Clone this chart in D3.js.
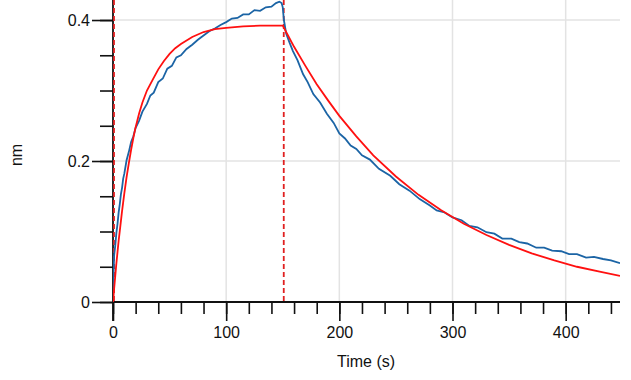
<!DOCTYPE html>
<html><head><meta charset="utf-8">
<script src="https://cdn.jsdelivr.net/npm/d3@7"></script>
<style>
html,body{margin:0;padding:0;background:#fff;}
svg{display:block;}
text{font-family:"Liberation Sans",Arial,sans-serif;fill:#111;}
</style></head>
<body>
<svg id="chart" width="631" height="380"></svg>
<script>
// Observed response (blue): time (s), response (nm)
const measuredTime = [0,0.5,1,2,3,4,5,6,7,8,9,10,12,14,16,18,20,23,26,30,33,36,40,44,48,52,56,60,65,70,75,80,85,90,95,100,105,110,115,120,125,130,135,140,144,147,149,
  150,151,153,156,159,163,168,172,177,183,189,195,200,205,210,215,220,227,235,245,253,262,271,280,286,293,300,308,315,322,330,337,344,352,359,366,374,381,388,396,403,410,418,425,433,440,448];
const measuredValue = [0.000,0.040,0.066,0.080,0.098,0.111,0.127,0.139,0.153,0.162,0.175,0.182,0.201,0.213,0.227,0.235,0.247,0.257,0.270,0.281,0.293,0.297,0.312,0.317,0.331,0.335,0.347,0.350,0.359,0.365,0.372,0.378,0.384,0.388,0.393,0.397,0.402,0.403,0.408,0.408,0.414,0.413,0.418,0.419,0.424,0.426,0.424,
  0.418,0.400,0.381,0.368,0.356,0.343,0.323,0.312,0.295,0.283,0.267,0.254,0.239,0.232,0.222,0.217,0.208,0.202,0.189,0.179,0.167,0.158,0.146,0.137,0.130,0.127,0.120,0.116,0.108,0.106,0.099,0.097,0.090,0.090,0.085,0.083,0.077,0.077,0.073,0.072,0.068,0.068,0.063,0.064,0.061,0.059,0.055];

// Fitted curve (red)
const fitTime = [0,1,2,3,4,5,6,8,10,12,14,16,18,20,23,26,30,35,40,45,50,55,60,70,80,90,100,115,130,150,
  155,160,170,180,190,200,215,230,250,270,290,310,330,350,370,390,410,430,448];
const fitValue = [0.000,0.019,0.037,0.055,0.071,0.087,0.101,0.129,0.154,0.177,0.197,0.216,0.233,0.248,0.267,0.283,0.300,0.315,0.330,0.342,0.352,0.360,0.366,0.376,0.383,0.387,0.389,0.391,0.392,0.392,
  0.377,0.362,0.335,0.309,0.286,0.264,0.235,0.208,0.178,0.152,0.130,0.111,0.095,0.081,0.069,0.059,0.050,0.043,0.037];

// Phase boundaries (dashed markers)
const phaseStarts = [0, 150];

const xMajorTicks = [0,100,200,300,400];
const yMajorTicks = [0,0.2,0.4];
const xMinorStep = 20;
const yMinorStep = 0.05;

const svg = d3.select("#chart");
const x = d3.scaleLinear().domain([0,448]).range([113,620]);
const y = d3.scaleLinear().domain([0,0.4284]).range([302,0]);

// grid
const grid = svg.append("g");
grid.selectAll("line.vx").data(xMajorTicks.filter(d=>d>0)).join("line")
  .attr("x1",d=>x(d)).attr("x2",d=>x(d)).attr("y1",0).attr("y2",y(0))
  .attr("stroke","#e3e3e3").attr("stroke-width",1.5);
grid.selectAll("line.hy").data(yMajorTicks.filter(d=>d>0)).join("line")
  .attr("y1",d=>y(d)).attr("y2",d=>y(d)).attr("x1",x(0)).attr("x2",620)
  .attr("stroke","#e3e3e3").attr("stroke-width",1.5);

// axes
const xMinor = d3.range(0,448,xMinorStep);
const yMinor = d3.range(0,0.43,yMinorStep);
const xAxisMinor = d3.axisBottom(x).tickValues(xMinor).tickSize(12).tickFormat("");
const xAxisMajor = d3.axisBottom(x).tickValues(xMajorTicks).tickSize(19).tickPadding(6).tickFormat(d3.format("d"));
const yAxisMinor = d3.axisLeft(y).tickValues(yMinor).tickSize(13).tickFormat("");
const yAxisMajor = d3.axisLeft(y).tickValues(yMajorTicks).tickSize(21).tickPadding(2).tickFormat(d=>d===0?"0":d3.format(".1f")(d));

function styleAxis(g){
  g.select(".domain").remove();
  g.selectAll(".tick line").attr("stroke","#111").attr("stroke-width",1.6);
  g.selectAll(".tick text").attr("font-size",16).attr("fill","#111")
    .attr("font-family",'"Liberation Sans",Arial,sans-serif');
}
svg.append("g").attr("transform",`translate(0,${y(0)})`).call(xAxisMinor).call(styleAxis);
svg.append("g").attr("transform",`translate(0,${y(0)})`).call(xAxisMajor).call(styleAxis);
svg.append("g").attr("transform",`translate(${x(0)},0)`).call(yAxisMinor).call(styleAxis);
svg.append("g").attr("transform",`translate(${x(0)},0)`).call(yAxisMajor).call(styleAxis);

// axis lines
svg.append("line").attr("x1",x(0)).attr("x2",620).attr("y1",y(0)).attr("y2",y(0))
  .attr("stroke","#111").attr("stroke-width",1.8);
svg.append("line").attr("x1",x(0)).attr("x2",x(0)).attr("y1",0).attr("y2",y(0)+19)
  .attr("stroke","#111").attr("stroke-width",1.8);

// labels
svg.append("text").attr("x",366).attr("y",367).attr("text-anchor","middle")
  .attr("font-size",16).text("Time (s)");
svg.append("text").attr("transform","translate(22,155) rotate(-90)").attr("text-anchor","middle")
  .attr("font-size",16).text("nm");

// phase markers
svg.append("g").selectAll("line").data(phaseStarts).join("line")
  .attr("x1",d=>x(d)+1).attr("x2",d=>x(d)+1).attr("y1",0).attr("y2",y(0))
  .attr("stroke","#e02020").attr("stroke-width",1.8).attr("stroke-dasharray","5,3");

const clip = svg.append("clipPath").attr("id","plot").append("rect")
  .attr("x",x(0)).attr("y",0).attr("width",620-x(0)).attr("height",y(0));

const line = d3.line().x(d=>x(d[0])).y(d=>y(d[1]));
svg.append("path").datum(measuredTime.map((t,i)=>[t,measuredValue[i]]))
  .attr("d",line).attr("fill","none").attr("stroke","#1b64a5").attr("stroke-width",1.8)
  .attr("clip-path","url(#plot)");
svg.append("path").datum(fitTime.map((t,i)=>[t,fitValue[i]]))
  .attr("d",line).attr("fill","none").attr("stroke","#ff1010").attr("stroke-width",1.8)
  .attr("clip-path","url(#plot)");
</script>
</body></html>
